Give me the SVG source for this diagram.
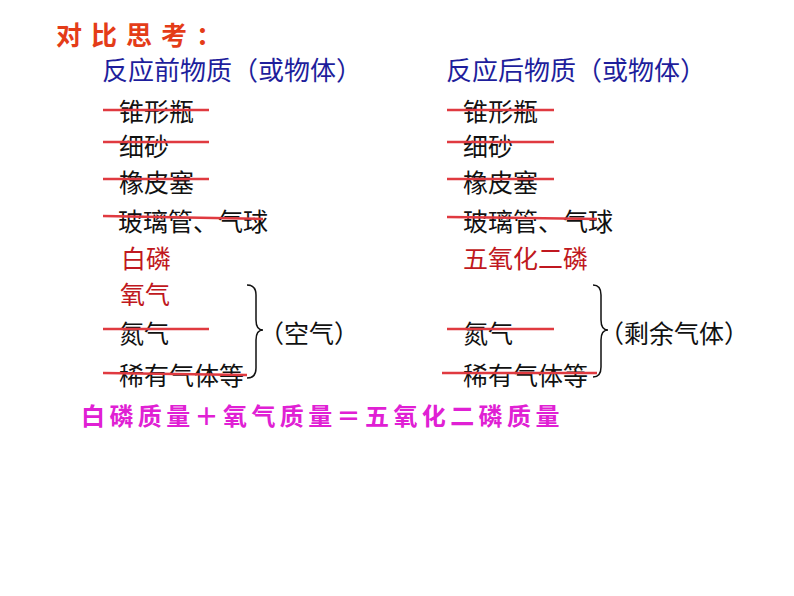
<svg xmlns="http://www.w3.org/2000/svg" width="794" height="596" viewBox="0 0 794 596">
<style>
.t{font-family:"Noto Sans CJK SC",sans-serif;font-size:25px;fill:#111}
.hd{font-family:"Noto Sans CJK SC",sans-serif;font-size:26px;fill:#1e1e9c}
.red{fill:#c01820}
.st{stroke:#e03a40;stroke-width:2.5;fill:none}
.br{stroke:#111;stroke-width:1.5;fill:none}
</style>
<rect width="794" height="596" fill="#fff"/>
<g id="title"><text x="56" y="45" font-family="Noto Sans CJK SC,sans-serif" font-size="26" font-weight="bold" fill="#e43c18" letter-spacing="9">对比思考：</text></g>
<g id="head-left"><text class="hd" x="102" y="80">反应前物质（或物体）</text></g>
<g id="head-right"><text class="hd" x="446" y="80">反应后物质（或物体）</text></g>
<g id="left-list">
<text class="t" x="119" y="121">锥形瓶</text>
<text class="t" x="119" y="156">细砂</text>
<text class="t" x="119" y="192">橡皮塞</text>
<text class="t" x="118" y="231">玻璃管、气球</text>
<text class="t red" x="121" y="268">白磷</text>
<text class="t red" x="120" y="304">氧气</text>
<text class="t" x="119" y="343">氮气</text>
<text class="t" x="119" y="385">稀有气体等</text>
</g>
<g id="right-list">
<text class="t" x="463" y="121">锥形瓶</text>
<text class="t" x="463" y="156">细砂</text>
<text class="t" x="463" y="192">橡皮塞</text>
<text class="t" x="463" y="231">玻璃管、气球</text>
<text class="t red" x="463" y="268">五氧化二磷</text>
<text class="t" x="463" y="343">氮气</text>
<text class="t" x="463" y="385">稀有气体等</text>
</g>
<g id="air-label"><text class="t" x="259" y="343">（空气）</text></g>
<g id="rest-label"><text class="t" x="599" y="343">（剩余气体）</text></g>
<g id="connectors">
<line class="st" x1="103" y1="110" x2="209" y2="110"/>
<line class="st" x1="103" y1="142" x2="209" y2="142"/>
<line class="st" x1="103" y1="179" x2="209" y2="179"/>
<line class="st" x1="103" y1="216" x2="263" y2="219"/>
<line class="st" x1="103" y1="329" x2="209" y2="329"/>
<line class="st" x1="103" y1="373" x2="247" y2="375"/>
<line class="st" x1="447" y1="110" x2="554" y2="110"/>
<line class="st" x1="447" y1="142" x2="554" y2="142"/>
<line class="st" x1="447" y1="179" x2="554" y2="179"/>
<line class="st" x1="447" y1="217" x2="597" y2="219"/>
<line class="st" x1="447" y1="329" x2="554" y2="329"/>
<line class="st" x1="442" y1="373" x2="597" y2="373"/>
<path class="br" d="M247 285 Q256 285 256 295 L256 320 Q256 330 263 330 Q256 330 256 340 L256 368 Q256 378 247 378"/>
<path class="br" d="M593 285 Q601 285 601 295 L601 320 Q601 330 608 330 Q601 330 601 340 L601 367 Q601 377 593 377"/>
</g>
<g id="equation"><text x="81" y="425" font-family="Noto Sans CJK SC,sans-serif" font-size="24" font-weight="bold" fill="#e020d4" letter-spacing="4.4">白磷质量＋氧气质量＝五氧化二磷质量</text></g>
</svg>
